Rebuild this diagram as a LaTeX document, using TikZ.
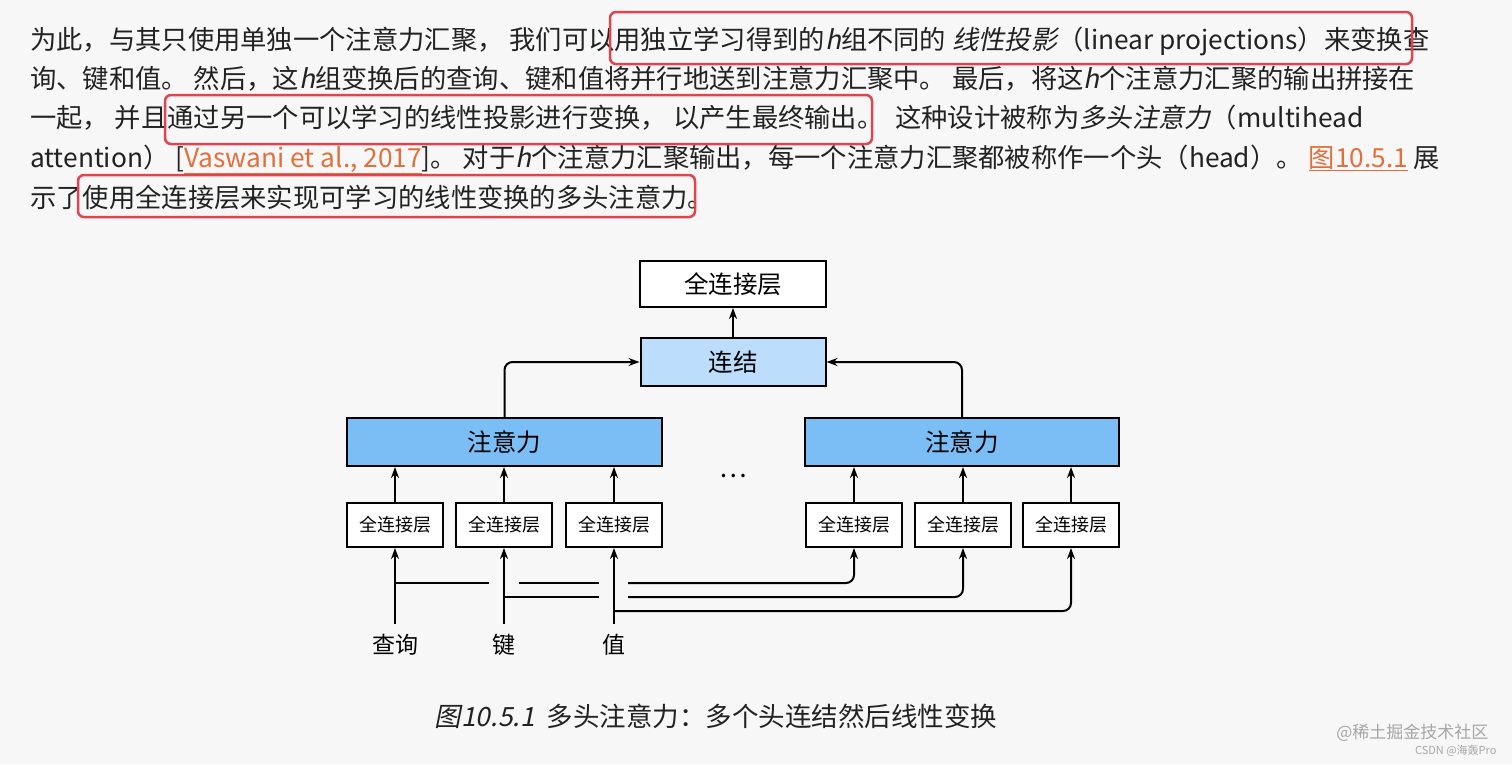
\documentclass[tikz,border=0pt]{standalone}
\usepackage{fontspec}
\setmainfont{Noto Sans CJK SC}
\newfontfamily\cjki[FakeSlant=0.2]{Noto Sans CJK SC}
\usetikzlibrary{arrows.meta}
\definecolor{txt}{HTML}{222222}
\definecolor{lnk}{HTML}{E0703C}
\definecolor{hl}{HTML}{E0454F}
\definecolor{blueA}{HTML}{7BBEF6}
\definecolor{blueB}{HTML}{BCDDFB}
\newcommand{\hh}{{\cjki h}}
\newcommand{\lk}[1]{\textcolor{lnk}{\underline{#1}}}
\begin{document}
\begin{tikzpicture}[x=1pt,y=-1pt,
  para/.style={anchor=base west,inner sep=0,text=txt,font=\fontsize{26.3}{30}\selectfont},
  hlbox/.style={draw=hl,line width=2.5pt,rounded corners=6pt},
  bigbox/.style={draw=black,line width=2pt,minimum height=46pt,font=\fontsize{24.5}{28}\selectfont,inner sep=0},
  smallbox/.style={draw=black,line width=2pt,minimum width=96pt,minimum height=44pt,font=\fontsize{18}{20}\selectfont,inner sep=0,fill=white},
  arr/.style={-{Stealth[length=11pt,width=8pt]},line width=2pt,rounded corners=8pt},
  ln/.style={line width=2pt},
  lab/.style={font=\fontsize{23}{26}\selectfont}]
\fill[white!97!black] (0,0) rectangle (1512,764);
\useasboundingbox (0,0) rectangle (1512,764);
% paragraph
\node[para] (l1) at (30,49) {为此，与其只使用单独一个注意力汇聚，\ 我们可以用独立学习得到的\hh 组不同的\ {\cjki 线性投影}（linear projections）来变换查};
\node[para] (l2) at (30,88) {询、键和值。\ 然后，这\hh 组变换后的查询、键和值将并行地送到注意力汇聚中。\ 最后，将这\hh 个注意力汇聚的输出拼接在};
\node[para] (l3) at (30,127) {一起，\ 并且通过另一个可以学习的线性投影进行变换，\ 以产生最终输出。\ \ 这种设计被称为{\cjki 多头注意力}（multihead};
\node[para] (l4) at (30,167) {attention）\ [\lk{Vaswani et al., 2017}]。\ 对于\hh 个注意力汇聚输出，每一个注意力汇聚都被称作一个头（head）。\ \lk{图10.5.1} 展};
\node[para] (l5) at (30,207) {示了使用全连接层来实现可学习的线性变换的多头注意力。};
\draw[hlbox] (610,12) rectangle (1412,64);
\draw[hlbox] (165,95) rectangle (872,144);
\draw[hlbox] (78,175) rectangle (695,217);
% diagram
\node[bigbox,minimum width=186pt,fill=white] (fc) at (733,284) {全连接层};
\node[bigbox,minimum width=185pt,minimum height=48pt,fill=blueB] (cat) at (733,362) {连结};
\node[bigbox,minimum width=315pt,minimum height=48pt,fill=blueA] (attL) at (504.5,442) {注意力};
\node[bigbox,minimum width=314pt,minimum height=48pt,fill=blueA] (attR) at (962,442) {注意力};
\node[smallbox] (s1) at (395,525) {全连接层};
\node[smallbox] (s2) at (504,525) {全连接层};
\node[smallbox] (s3) at (614,525) {全连接层};
\node[smallbox] (s4) at (854,525) {全连接层};
\node[smallbox] (s5) at (963,525) {全连接层};
\node[smallbox] (s6) at (1071,525) {全连接层};
\node[font=\fontsize{26}{26}\selectfont] (dots) at (733,476) {…};
\node[lab] (q) at (395,645) {查询};
\node[lab] (k) at (504,645) {键};
\node[lab] (v) at (614,645) {值};
\coordinate (qb) at (395,624);
\coordinate (kb) at (504,624);
\coordinate (vb) at (614,624);
\draw[arr] (cat) -- (fc);
\draw[arr] (attL.north) |- (cat.west);
\draw[arr] (attR.north) |- (cat.east);
\foreach \s/\a in {s1/attL,s2/attL,s3/attL,s4/attR,s5/attR,s6/attR}
  \draw[arr] (\s.north) -- (\s.north|-\a.south);
\draw[arr] (qb) -- (s1.south);
\draw[arr] (kb) -- (s2.south);
\draw[arr] (vb) -- (s3.south);
% query line with gaps
\draw[ln] (395,583) -- (489,583);
\draw[ln] (519,583) -- (599,583);
\draw[arr] (628,583) -| (s4.south);
% key line
\draw[ln] (504,597) -- (599,597);
\draw[arr] (628,597) -| (s5.south);
% value line
\draw[arr] (614,611) -| (s6.south);
% caption
\node[font=\fontsize{26.5}{28}\selectfont,text=txt] (cap) at (716,716) {{\cjki 图10.5.1}\ \ 多头注意力：多个头连结然后线性变换};
\node[font=\fontsize{17}{20}\selectfont,text=gray!70,anchor=east] (wm) at (1492,733) {@稀土掘金技术社区};
\node[font=\fontsize{11}{13}\selectfont,text=gray!70,anchor=east] (wm2) at (1500,751) {CSDN @海轰Pro};
\end{tikzpicture}
\end{document}
